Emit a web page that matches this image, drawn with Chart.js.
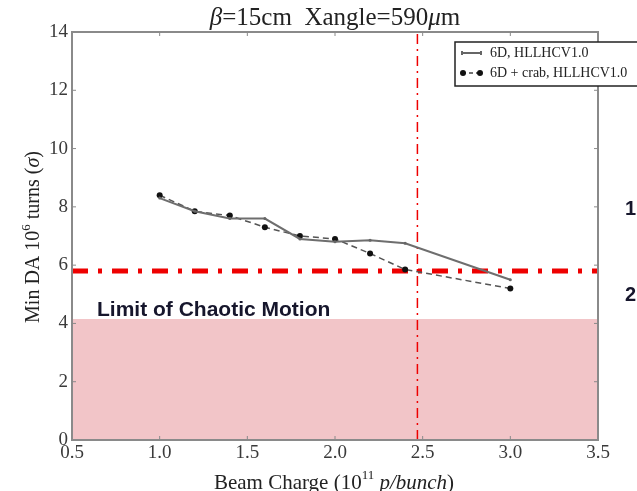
<!DOCTYPE html>
<html lang="en">
<head>
<meta charset="UTF-8">
<title>Min DA vs Beam Charge</title>
<style>
    html, body { margin: 0; padding: 0; background: #fff; }
    .chart-container { position: relative; width: 637px; height: 491px; }
</style>
</head>
<body>
<div class="chart-container">
    <canvas id="myChart" width="637" height="491"></canvas>
</div>

<script src="https://cdn.jsdelivr.net/npm/chart.js@4.4.0/dist/chart.umd.min.js"></script>
<script>
    // values
    const charges = [1.0, 1.2, 1.4, 1.6, 1.8, 2.0, 2.2, 2.4, 3.0];
    const da6D = [8.3, 7.85, 7.6, 7.6, 6.9, 6.8, 6.85, 6.75, 5.5];
    const da6DCrab = [8.4, 7.85, 7.7, 7.3, 7.0, 6.9, 6.4, 5.85, 5.2];
    const chaosLimit = 4.15;     // top of the shaded band
    const daTarget = 5.8;        // red dash-dot horizontal
    const chargeMark = 2.47;     // red dash-dot vertical
    const xRange = [0.5, 3.5];
    const yRange = [0, 14];
    const xTicks = [0.5, 1.0, 1.5, 2.0, 2.5, 3.0, 3.5];
    const yTicks = [0, 2, 4, 6, 8, 10, 12, 14];
    const legendLabels = ['6D, HLLHCV1.0', '6D + crab, HLLHCV1.0'];

    const serif = '"Liberation Serif", "DejaVu Serif", serif';

    const toXY = (xs, ys) => xs.map((x, i) => ({ x: x, y: ys[i] }));

    // frame, inner ticks, legend and annotations
    const overlay = {
        id: 'overlay',
        afterDatasetsDraw(chart) {
            const ctx = chart.ctx;
            const a = chart.chartArea;
            const xs = chart.scales.x, ys = chart.scales.y;
            ctx.save();
            ctx.strokeStyle = '#8a8a8a';
            ctx.lineWidth = 2;
            ctx.strokeRect(a.left, a.top, a.right - a.left, a.bottom - a.top);
            ctx.lineWidth = 1;
            ctx.beginPath();
            xTicks.forEach(v => {
                const px = xs.getPixelForValue(v);
                ctx.moveTo(px, a.bottom); ctx.lineTo(px, a.bottom - 4);
                ctx.moveTo(px, a.top); ctx.lineTo(px, a.top + 4);
            });
            yTicks.forEach(v => {
                const py = ys.getPixelForValue(v);
                ctx.moveTo(a.left, py); ctx.lineTo(a.left + 4, py);
                ctx.moveTo(a.right, py); ctx.lineTo(a.right - 4, py);
            });
            ctx.stroke();

            // legend box
            ctx.fillStyle = '#fff';
            ctx.fillRect(455, 42, 200, 44);
            ctx.strokeStyle = '#222';
            ctx.lineWidth = 1.5;
            ctx.strokeRect(455, 42, 200, 44);

            ctx.strokeStyle = '#666';
            ctx.lineWidth = 2;
            ctx.beginPath();
            ctx.moveTo(462, 53); ctx.lineTo(481, 53);
            ctx.moveTo(462, 51); ctx.lineTo(462, 55);
            ctx.moveTo(481, 51); ctx.lineTo(481, 55);
            ctx.stroke();

            ctx.strokeStyle = '#444';
            ctx.lineWidth = 1.5;
            ctx.setLineDash([4, 3]);
            ctx.beginPath();
            ctx.moveTo(462, 73); ctx.lineTo(481, 73);
            ctx.stroke();
            ctx.setLineDash([]);
            ctx.fillStyle = '#111';
            [463, 480].forEach(px => {
                ctx.beginPath(); ctx.arc(px, 73, 3, 0, Math.PI * 2); ctx.fill();
            });

            ctx.fillStyle = '#222';
            ctx.font = '14px ' + serif;
            ctx.textBaseline = 'middle';
            ctx.textAlign = 'left';
            ctx.fillText(legendLabels[0], 490, 53);
            ctx.fillText(legendLabels[1], 490, 73);

            // annotation text
            ctx.fillStyle = '#16162c';
            ctx.textBaseline = 'alphabetic';
            ctx.font = 'bold 21px "Liberation Sans", Arial, sans-serif';
            ctx.fillText('Limit of Chaotic Motion', 97, 316);
            ctx.font = 'bold 20px "Liberation Sans", Arial, sans-serif';
            ctx.fillText('1', 625, 215);
            ctx.fillText('2', 625, 301);
            ctx.restore();
        },
        afterDraw(chart) {
            const ctx = chart.ctx;
            ctx.save();
            ctx.fillStyle = '#222';
            ctx.textBaseline = 'middle';

            // title with italic greek letters
            drawRuns(ctx, [
                ['italic 25px ' + serif, '\u03B2'],
                ['25px ' + serif, '=15cm  Xangle=590'],
                ['italic 25px ' + serif, '\u03BC'],
                ['25px ' + serif, 'm']
            ], 335, 18);

            // x axis title
            drawRuns(ctx, [
                ['21px ' + serif, 'Beam Charge (10'],
                ['13px ' + serif, '11', -7],
                ['italic 21px ' + serif, ' p/bunch'],
                ['21px ' + serif, ')']
            ], 334, 483);

            // y axis title, rotated
            ctx.translate(34, 237);
            ctx.rotate(-Math.PI / 2);
            drawRuns(ctx, [
                ['20px ' + serif, 'Min DA 10'],
                ['13px ' + serif, '6', -7],
                ['20px ' + serif, ' turns ('],
                ['italic 20px ' + serif, '\u03C3'],
                ['20px ' + serif, ')']
            ], 0, 0);
            ctx.restore();
        }
    };

    function drawRuns(ctx, runs, cx, cy) {
        let total = 0;
        runs.forEach(r => { ctx.font = r[0]; total += ctx.measureText(r[1]).width; });
        let x = cx - total / 2;
        ctx.textAlign = 'left';
        runs.forEach(r => {
            ctx.font = r[0];
            ctx.fillText(r[1], x, cy + (r[2] || 0));
            x += ctx.measureText(r[1]).width;
        });
    }

    const ctx = document.getElementById('myChart').getContext('2d');
    const myChart = new Chart(ctx, {
        type: 'line',
        data: {
            datasets: [{
                label: legendLabels[0],
                data: toXY(charges, da6D),
                borderColor: '#6e6e6e',
                borderWidth: 2,
                pointRadius: 1.5,
                pointBackgroundColor: '#666',
                pointBorderWidth: 0,
                fill: false,
                order: 1
            }, {
                label: legendLabels[1],
                data: toXY(charges, da6DCrab),
                borderColor: '#555',
                borderWidth: 1.5,
                borderDash: [6, 4],
                pointRadius: 3,
                pointBackgroundColor: '#111',
                pointBorderWidth: 0,
                fill: false,
                order: 2
            }, {
                label: 'target',
                data: toXY(xRange, [daTarget, daTarget]),
                borderColor: '#ee0000',
                borderWidth: 5,
                borderDash: [16, 10, 4, 10],
                pointRadius: 0,
                fill: false,
                order: 3
            }, {
                label: 'charge',
                data: toXY([chargeMark, chargeMark], yRange),
                borderColor: '#ee0000',
                borderWidth: 1.5,
                borderDash: [10, 5, 2, 5],
                pointRadius: 0,
                fill: false,
                order: 4
            }, {
                label: 'chaos',
                data: toXY(xRange, [chaosLimit, chaosLimit]),
                borderWidth: 0,
                backgroundColor: '#f2c5c8',
                pointRadius: 0,
                fill: 'origin',
                order: 5
            }]
        },
        options: {
            responsive: false,
            animation: false,
            layout: { padding: { top: 32, right: 39, left: 0, bottom: 0 } },
            scales: {
                x: {
                    type: 'linear',
                    min: xRange[0],
                    max: xRange[1],
                    afterBuildTicks: s => { s.ticks = xTicks.map(v => ({ value: v })); },
                    afterFit: s => { s.height = 51; },
                    grid: { display: false, drawTicks: false },
                    border: { display: false },
                    ticks: {
                        padding: 2,
                        maxRotation: 0,
                        color: '#3a3a3a',
                        font: { family: serif, size: 19 },
                        callback: v => v.toFixed(1)
                    }
                },
                y: {
                    min: yRange[0],
                    max: yRange[1],
                    afterBuildTicks: s => { s.ticks = yTicks.map(v => ({ value: v })); },
                    afterFit: s => { s.width = 72; },
                    grid: { display: false, drawTicks: false },
                    border: { display: false },
                    ticks: {
                        padding: 4,
                        color: '#3a3a3a',
                        font: { family: serif, size: 19 }
                    }
                }
            },
            plugins: {
                legend: { display: false },
                title: { display: false },
                tooltip: { enabled: false }
            }
        },
        plugins: [overlay]
    });
</script>
</body>
</html>
